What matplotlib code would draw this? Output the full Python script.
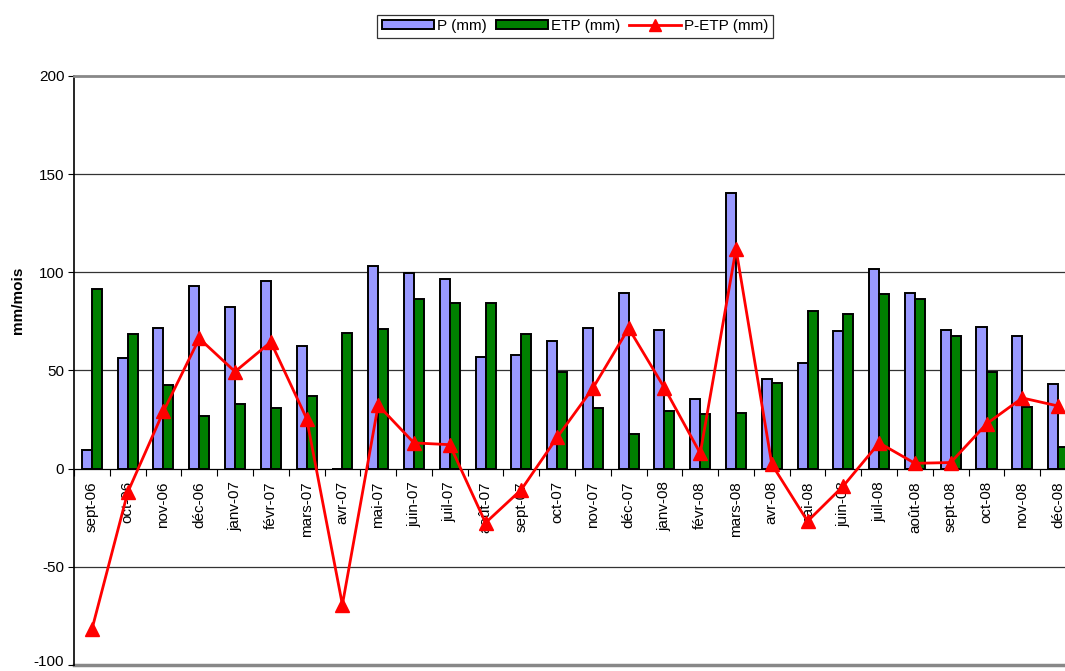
#!/usr/bin/env python
# -*- coding: utf-8 -*-

import numpy as np
import matplotlib
matplotlib.use("Agg")
import matplotlib.pyplot as plt
import matplotlib.transforms as mtransforms

plt.rcParams["font.family"] = ["Liberation Sans", "DejaVu Sans"]
plt.rcParams["axes.unicode_minus"] = False

# monthly water balance, sept 2006 - dec 2008
months = ["sept-06", "oct-06", "nov-06", "déc-06", "janv-07", "févr-07", "mars-07",
          "avr-07", "mai-07", "juin-07", "juil-07", "août-07", "sept-07", "oct-07",
          "nov-07", "déc-07", "janv-08", "févr-08", "mars-08", "avr-08", "mai-08",
          "juin-08", "juil-08", "août-08", "sept-08", "oct-08", "nov-08", "déc-08"]

P = [9.5, 56.5, 71.8, 93.1, 82.4, 95.6, 62.5,
     0.0, 103.3, 99.4, 96.8, 57.0, 57.8, 65.0,
     71.8, 89.3, 70.7, 35.5, 140.4, 45.7, 53.7,
     70.0, 101.9, 89.3, 70.7, 72.2, 67.6, 43.1]

ETP = [91.4, 68.6, 42.6, 26.8, 33.0, 31.1, 37.0,
       69.3, 71.0, 86.3, 84.6, 84.6, 68.5, 49.1,
       30.8, 17.8, 29.6, 27.7, 28.5, 43.5, 80.5,
       78.8, 88.8, 86.6, 67.6, 49.4, 31.6, 11.2]

P_ETP = [-81.9, -12.1, 29.2, 66.3, 49.4, 64.5, 25.5,
         -69.3, 32.3, 13.1, 12.2, -27.6, -10.7, 15.9,
         41.0, 71.5, 41.1, 7.8, 111.9, 2.2, -26.8,
         -8.8, 13.1, 2.7, 3.1, 22.8, 36.0, 31.9]

yticks = [-100, -50, 0, 50, 100, 150, 200]


def main():
    fig = plt.figure(figsize=(10.65, 6.71), dpi=100)
    ax = fig.add_axes([0.0695, 0.009, 0.9408, 0.8778])

    x = np.arange(len(months))
    w = 0.28
    bP = ax.bar(x - w / 2, P, width=w, color="#9999FF", edgecolor="black",
                linewidth=1.4, label="P (mm)", zorder=3)
    bE = ax.bar(x + w / 2, ETP, width=w, color="#008000", edgecolor="black",
                linewidth=1.4, label="ETP (mm)", zorder=3)
    ln, = ax.plot(x, P_ETP, color="#FF0000", linewidth=2, marker="^",
                  markersize=10.5, label="P-ETP (mm)", zorder=4)

    ax.set_xlim(-0.5, len(months) - 0.5)
    ax.set_ylim(-100, 200)
    ax.set_yticks(yticks)
    ax.tick_params(axis="y", labelsize=11, length=4, width=0.8, pad=3)

    # lowest label sits on the figure edge, lift it a little
    lbl = ax.get_yticklabels()[0]
    lbl.set_transform(lbl.get_transform() +
                      mtransforms.ScaledTranslation(0, 3 / 72, fig.dpi_scale_trans))

    # horizontal grid
    for v in [-50, 50, 100, 150]:
        ax.axhline(v, color="#333333", linewidth=0.9, zorder=1)

    # category axis sits on zero
    ax.spines["bottom"].set_position(("data", 0))
    ax.spines["bottom"].set_linewidth(0.9)
    ax.spines["bottom"].set_zorder(2)
    ax.spines["right"].set_visible(False)
    ax.spines["top"].set_color("#888888")
    ax.spines["top"].set_linewidth(2)
    ax.spines["left"].set_linewidth(1.2)
    ax.axhline(-100, color="#888888", linewidth=2.5, clip_on=False, zorder=1)

    ax.set_xticks(x)
    ax.set_xticklabels(months, rotation=90, fontsize=11)
    ax.tick_params(axis="x", which="major", length=0, pad=9)
    ax.set_xticks(np.arange(len(months) + 1) - 0.5, minor=True)
    ax.tick_params(axis="x", which="minor", length=5, width=0.8, direction="out")

    fig.text(0.017, 0.553, "mm/mois", rotation=90, fontsize=11,
             fontweight="bold", ha="center", va="center")

    leg = fig.legend(handles=[bP, bE, ln], loc="center",
                     bbox_to_anchor=(0.54, 0.961), ncol=3, fontsize=11,
                     frameon=True, fancybox=False, edgecolor="black",
                     handlelength=3.4, handleheight=0.5, handletextpad=0.2,
                     columnspacing=0.6, borderpad=0.3, markerscale=0.85)
    leg.get_frame().set_linewidth(0.9)

    plt.savefig("out.png", dpi=100)
    plt.close()


main()
